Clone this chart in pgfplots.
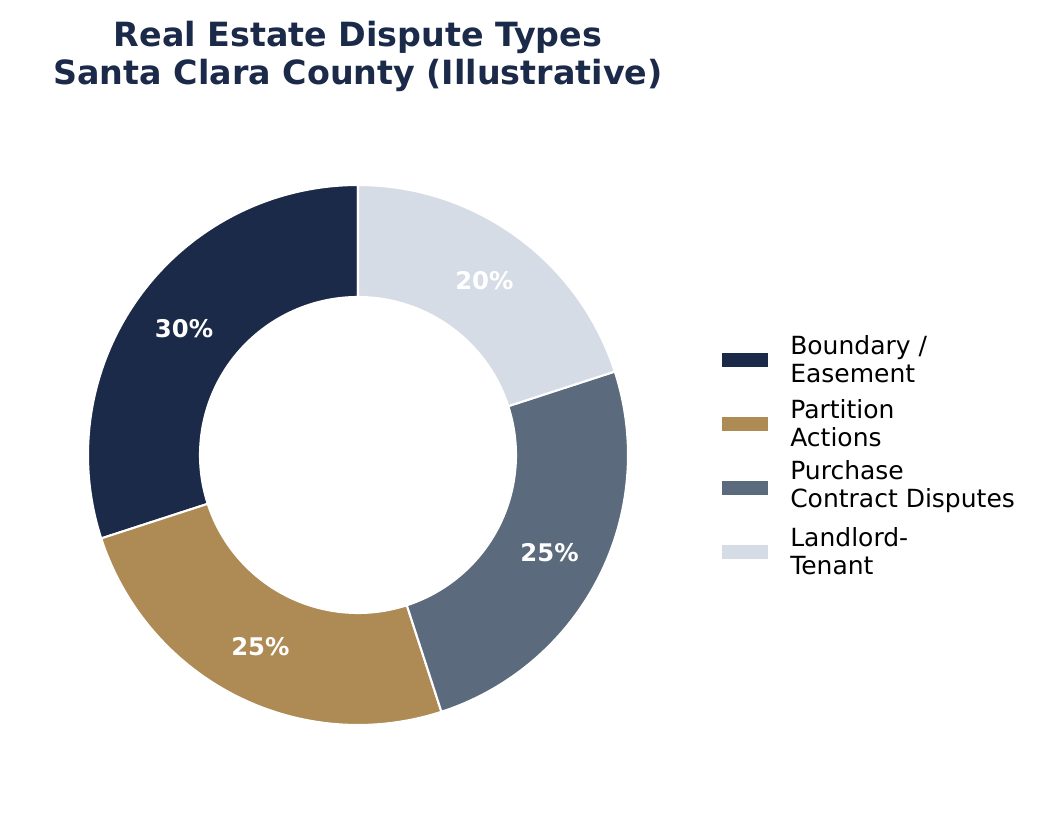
\documentclass[border=0pt]{standalone}
\usepackage{pgfplots}
\pgfplotsset{compat=1.18}
\usepackage{pgfplotstable}
\usepackage{fontspec}
\setmainfont{DejaVu Sans}

\definecolor{navy}{HTML}{1C2A4A}
\definecolor{gold}{HTML}{AE8A55}
\definecolor{slate}{HTML}{5B6A7C}
\definecolor{mist}{HTML}{D6DCE6}

% shares of dispute types (percent), counterclockwise from 12 o'clock
\pgfplotstableread{
value
30
25
25
20
}\slices

% geometry in pixel units of the axis (1 unit = 0.72pt)
\def\cx{358}\def\cy{359}
\def\ro{270}\def\ri{158}\def\rl{215}

\begin{document}
\begin{tikzpicture}
\useasboundingbox (0,0) rectangle (751.68pt,586.08pt);
% start/end angle of every slice from the table
\xdef\cum{90}
\pgfplotsforeachungrouped \i in {0,...,3}{%
  \pgfplotstablegetelem{\i}{value}\of\slices
  \expandafter\xdef\csname sV\i\endcsname{\pgfplotsretval}%
  \pgfmathsetmacro\b{\cum+3.6*\pgfplotsretval}%
  \expandafter\xdef\csname sA\i\endcsname{\cum}%
  \expandafter\xdef\csname sB\i\endcsname{\b}%
  \xdef\cum{\b}%
}
% #1 start angle, #2 end angle, #3 value, #4 colour
\newcommand\doslice[4]{%
  \fill[#4, draw=white, line width=1.5pt, line join=round]
    (axis cs:{\cx+\ro*cos(#1)},{\cy+\ro*sin(#1)})
    arc[start angle=#1, end angle=#2, radius=194.4pt]
    -- (axis cs:{\cx+\ri*cos(#2)},{\cy+\ri*sin(#2)})
    arc[start angle=#2, end angle=#1, radius=113.76pt] -- cycle;
  \node[text=white, font=\bfseries\fontsize{17.5}{20}\selectfont, inner sep=0pt]
    at (axis cs:{\cx+\rl*cos((#1+#2)/2)},{\cy+\rl*sin((#1+#2)/2)})
    {#3\%};
}
\newcommand\slice[2]{%
  \edef\tmp{\noexpand\doslice{\csname sA#1\endcsname}{\csname sB#1\endcsname}%
    {\csname sV#1\endcsname}{#2}}\tmp}
\newcommand\legitem[3]{%
  \fill[#2] (axis cs:722,#1-7) rectangle (axis cs:768,#1+7);
  \node[anchor=west, inner sep=0pt, align=left,
        font=\fontsize{18}{20.2}\selectfont] at (axis cs:790,#1+1) {#3};
}
\begin{axis}[
  at={(0,0)}, anchor=south west,
  scale only axis, width=751.68pt, height=586.08pt,
  xmin=0, xmax=1044, ymin=0, ymax=814,
  hide axis, clip=false,
]
\slice{0}{navy}
\slice{1}{gold}
\slice{2}{slate}
\slice{3}{mist}

\node[anchor=base, text=navy, font=\bfseries\fontsize{24}{28}\selectfont]
  at (axis cs:358,767) {Real Estate Dispute Types};
\node[anchor=base, text=navy, font=\bfseries\fontsize{24}{28}\selectfont]
  at (axis cs:358,729) {Santa Clara County (Illustrative)};

\legitem{454}{navy}{Boundary /\\Easement}
\legitem{390}{gold}{Partition\\Actions}
\legitem{326}{slate}{Purchase\\Contract Disputes}
\legitem{262}{mist}{Landlord-\\Tenant}
\end{axis}
\end{tikzpicture}
\end{document}
